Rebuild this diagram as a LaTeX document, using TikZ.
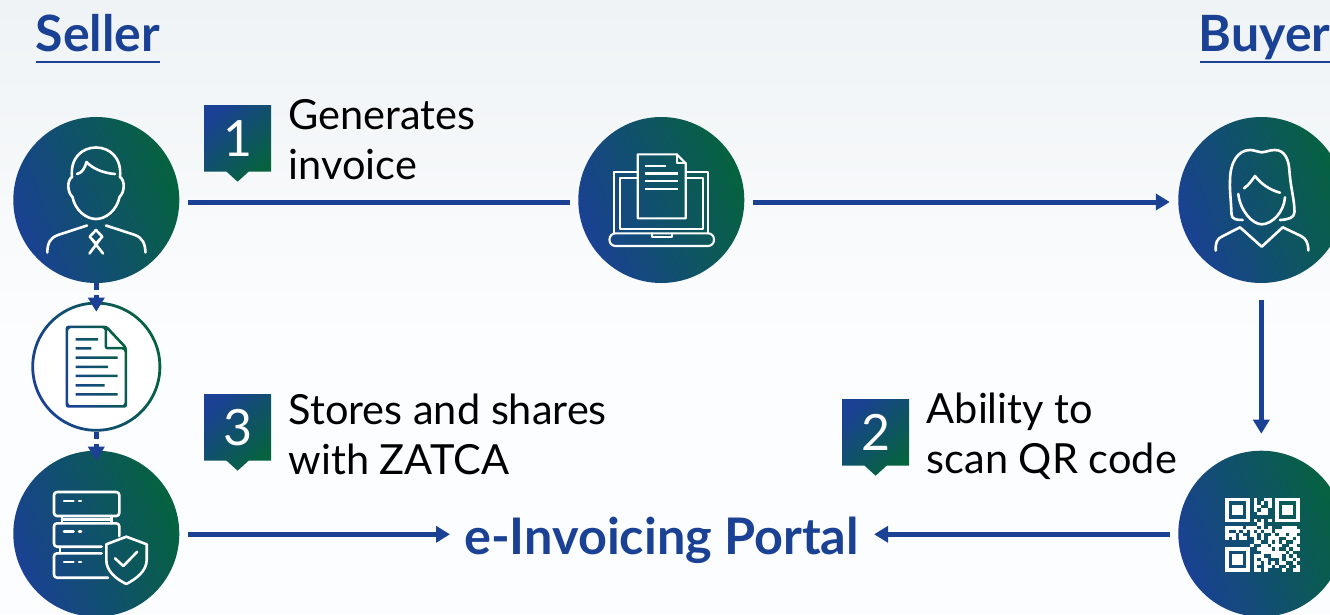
\documentclass[tikz,border=0pt]{standalone}
\usepackage{fontspec}
\setmainfont{Lato}
\usetikzlibrary{arrows.meta}
\definecolor{zblue}{HTML}{1A4193}
\definecolor{zgreen}{HTML}{05633E}
\definecolor{bgtop}{HTML}{EFF3F5}
\definecolor{bgend}{HTML}{FCFDFE}
\newcount\qrx
\newcount\qry
\makeatletter
\def\qrrowdraw#1{\qrx=0 \@tfor\qrc:=#1\do{\if1\qrc \fill[white] (1225+\the\qrx*3.571,497.7+\the\qry*3.524) rectangle ++(3.65,3.6);\fi \advance\qrx by 1 }\advance\qry by 1 }
\makeatother
\tikzset{
  gradcirc/.style={circle,minimum size=166pt,inner sep=0pt,outer sep=0pt,top color=zgreen,bottom color=zblue,shading angle=-70},
  gradfill/.style={top color=zgreen,bottom color=zblue,shading angle=-70},
  badgefill/.style={top color=zgreen,bottom color=zblue,shading angle=-135},
  icon/.style={draw=white,line width=2.6pt,line cap=round,line join=round},
  thinicon/.style={draw=white,line width=2.1pt,line cap=round,line join=round},
  flow/.style={draw=zblue,line width=5pt,-{Triangle[length=14pt,width=16pt]},shorten <=8.5pt},
  dashflow/.style={draw=zblue,line width=5pt,dash pattern=on 7pt off 5pt,-{Triangle[length=14pt,width=16pt]}},
  bodytext/.style={anchor=west,inner sep=0pt,align=left,font=\fontsize{41.5}{50}\selectfont,text=black},
  headtext/.style={anchor=base west,inner sep=0pt,font=\fontsize{50}{50}\selectfont\bfseries,text=zblue},
  digit/.style={inner sep=0pt,text=white,font=\fontsize{50}{50}\selectfont},
  underl/.style={draw=zblue,line width=2.2pt}
}
\newcommand{\zbadge}[4]{%
  \shade[badgefill] (#1,#2) -- ++(67,0) -- ++(0,66.7) -- ++(-22.4,0) -- ++(-11,10) -- ++(-11,-10) -- ++(-22.6,0) -- cycle;
  \node[digit] (#3) at (#1+33.5,#2+33.5) {#4};
}
\begin{document}
\begin{tikzpicture}[x=1pt,y=-1pt]
\clip (0,0) rectangle (1330,614);
\fill[top color=bgtop,bottom color=bgend] (0,0) rectangle (1330,340);
\fill[bgend] (0,340) rectangle (1330,614);

% headings
\node[headtext] (sellerhead) at (35.5,51) {Seller};
\node[headtext] (buyerhead) at (1198.5,51) {Buyer};
\draw[underl] (36,62) -- (160,62);
\draw[underl] (1200,62) -- (1330,62);

% circles
\node[gradcirc] (seller) at (96.3,200) {};
\node[gradcirc] (laptop) at (661.3,200) {};
\node[gradcirc] (buyer) at (1261.3,200) {};
\node[gradcirc] (server) at (96.3,533.7) {};
\node[gradcirc] (qr) at (1261.3,533.7) {};
\node[circle,fill=white,minimum size=130pt,inner sep=0pt,outer sep=0pt] (doc) at (96.3,366.7) {};
\shade[gradfill,even odd rule] (doc.center) circle[radius=65] (doc.center) circle[radius=62.2];

% seller icon
\draw[icon] (72,177) .. controls (70,158) and (82,147.5) .. (96,147.5) .. controls (110,147.5) and (122,158) .. (120,177);
\draw[icon] (72,177) .. controls (67,180) and (67,192) .. (72.5,197) .. controls (75,210) and (86,219) .. (96,219) .. controls (106,219) and (117,210) .. (119.5,197) .. controls (125,192) and (125,180) .. (120,177);
\draw[icon] (77,174) .. controls (82,173) and (85,168) .. (86.5,162) .. controls (92,168) and (102,173) .. (115,174);
\draw[icon] (47.3,252.5) .. controls (47.5,243) and (50,238) .. (58,235) -- (87,225.5);
\draw[icon] (145.5,252.5) .. controls (145,243) and (142.5,238) .. (135,235) -- (106,225.5);
\draw[icon] (96,230) -- (102.3,236.7) -- (96,243.5) -- (89.7,236.7) -- cycle;
\draw[icon] (92.5,240) -- (103,253.5);
\draw[icon] (99.5,240) -- (89.5,253.5);

% laptop icon
\draw[thinicon] (637.7,172.3) -- (614.3,172.3) -- (614.3,233.3);
\draw[thinicon] (685.7,172.3) -- (708.3,172.3) -- (708.3,233.3);
\draw[thinicon] (637.7,177.7) -- (620,177.7) -- (620,229.3) -- (703.3,229.3) -- (703.3,177.7) -- (685.7,177.7);
\draw[thinicon,rounded corners=6pt] (609.5,233.3) -- (714,233.3) -- (714,246) -- (609.5,246) -- cycle;
\draw[thinicon] (651.7,233.3) -- (651.7,237.3) -- (671.7,237.3) -- (671.7,233.3);
\draw[thinicon] (676.7,154.3) -- (637.7,154.3) -- (637.7,218.3) -- (685.7,218.3) -- (685.7,163.3) -- cycle;
\draw[thinicon] (676.7,154.3) -- (676.7,163.3) -- (685.7,163.3);
\draw[thinicon,line cap=butt] (645,166) -- (665.7,166);
\draw[thinicon,line cap=butt] (645,173.5) -- (677.7,173.5);
\draw[thinicon,line cap=butt] (645,181) -- (677.7,181);
\draw[thinicon,line cap=butt] (645,189) -- (677.7,189);

% buyer icon
\draw[icon] (1242.7,220) .. controls (1236,220) and (1231.5,219) .. (1231.5,214) .. controls (1231,200) and (1229.5,190) .. (1230,181) .. controls (1230,162) and (1238,150) .. (1250,150) .. controls (1254,150) and (1258,152) .. (1261.7,152.3) .. controls (1266,152) and (1270,150) .. (1275,150) .. controls (1285,150) and (1289,160) .. (1289.5,172) .. controls (1291,190) and (1294.5,200) .. (1294.5,212) .. controls (1294.5,218) and (1288,219.5) .. (1280,220);
\draw[icon] (1238.3,194) .. controls (1240,210) and (1252,224.3) .. (1261.7,224.3) .. controls (1272,224.3) and (1284,212) .. (1285,197.3);
\draw[icon] (1244,188.3) .. controls (1249,185) and (1252,180) .. (1255,176) .. controls (1261,184) and (1270,190) .. (1280,192.7);
\draw[icon] (1215.7,250.5) .. controls (1215.5,243) and (1216.5,238.5) .. (1223,236) -- (1240,227.3) -- (1261.7,246.7) -- (1282.7,227.3) -- (1301,236) .. controls (1306,238.5) and (1308.3,243) .. (1308.3,250.5);

% server icon
\draw[icon,rounded corners=3pt] (54,492) rectangle (119.3,516);
\draw[icon] (64,501) -- (73.5,501) (79,501) -- (81,501);
\draw[icon] (62,516) -- (62,523.3) (111.7,516) -- (111.7,523.3) (62,519.5) -- (111.7,519.5);
\draw[icon,rounded corners=3pt] (119.3,536) -- (119.3,523.3) -- (54,523.3) -- (54,546.7) -- (101.7,546.7);
\draw[icon] (64,531.7) -- (73.5,531.7) (79,531.7) -- (81,531.7);
\draw[icon] (60,546.7) -- (60,553.3);
\draw[icon,rounded corners=3pt] (101.7,553.3) -- (54,553.3) -- (54,577.7) -- (108,577.7);
\draw[icon] (64,562) -- (73.5,562) (79,562) -- (81,562);
\draw[icon] (126.3,536.7) -- (146.7,544.3) -- (146.7,560) .. controls (146.7,571) and (136,579) .. (126.3,584) .. controls (116,579) and (106.3,571) .. (106.3,560) -- (106.3,544.3) -- cycle;
\draw[icon] (115,558.3) -- (123.3,566) -- (137.3,551.7);

% qr
\qry=0
\qrrowdraw{111111101001101111111}
\qrrowdraw{100000101010101000001}
\qrrowdraw{101110101100101011101}
\qrrowdraw{101110101011001011101}
\qrrowdraw{101110100111001011101}
\qrrowdraw{100000100000001000001}
\qrrowdraw{111111101010101111111}
\qrrowdraw{000000000110000000000}
\qrrowdraw{111110111010100011110}
\qrrowdraw{100101010101101111111}
\qrrowdraw{111010011010010110110}
\qrrowdraw{101011001010111001101}
\qrrowdraw{000000001100101010011}
\qrrowdraw{000000010011011100110}
\qrrowdraw{111111100111101001011}
\qrrowdraw{100000100011111110100}
\qrrowdraw{101110101110011101010}
\qrrowdraw{101110101011000101101}
\qrrowdraw{101110101101010110010}
\qrrowdraw{100000101001101001001}
\qrrowdraw{111111101101000010011}

% doc icon
\shade[gradfill,even odd rule]
  [rounded corners=2.5pt] (107,325.7) -- (127,347) -- (127,407.7) -- (65.7,407.7) -- (65.7,325.7) -- cycle
  (104.7,328.2) -- (104.7,349.4) -- (124.5,349.4) -- (124.5,405.2) -- (68.2,405.2) -- (68.2,328.2) -- cycle
  [rounded corners=0pt] (107.2,329.8) -- (123.4,346.9) -- (107.2,346.9) -- cycle
  (75.5,338) rectangle (98,340.5) (75.5,347) rectangle (91.3,349.5)
  (75.5,356.3) rectangle (117.5,358.8) (75.5,365.5) rectangle (108,368)
  (75.5,374.7) rectangle (117.5,377.2) (75.5,384) rectangle (104.6,386.5)
  (75.5,393) rectangle (117.5,395.5);

% connectors
\draw[flow,shorten >=0pt,-] ([yshift=-2pt]seller.east) -- ([yshift=-2pt,xshift=-8.5pt]laptop.west);
\draw[flow,shorten >=8.5pt] ([yshift=-2pt]laptop.east) -- ([yshift=-2pt]buyer.west);
\draw[flow,shorten <=17pt,shorten >=17pt] (buyer.south) -- (qr.north);
\draw[dashflow,shorten >=-10pt] (seller.south) -- (doc.north);
\draw[dashflow,shorten >=-10pt] (doc.south) -- (server.north);

% labels
\node[headtext,font=\fontsize{50.4}{50.4}\selectfont\bfseries,anchor=west] (portal) at (464,540) {e-Invoicing Portal};
\draw[flow,shorten >=14pt] ([yshift=-0.6pt]server.east) -- ([yshift=-0.6pt]server.east -| portal.west);
\draw[flow,shorten >=15pt] ([yshift=-0.6pt]qr.west) -- ([yshift=-0.6pt]qr.west -| portal.east);

\zbadge{204}{105}{one}{1}
\zbadge{204}{394}{three}{3}
\zbadge{842}{399}{two}{2}
\node[bodytext] (t1) at (288.5,140) {Generates\\invoice};
\node[bodytext] (t3) at (288.5,434.5) {Stores and shares\\with ZATCA};
\node[bodytext] (t2) at (926.5,436.5) {Ability to\\scan QR code};
\end{tikzpicture}
\end{document}
